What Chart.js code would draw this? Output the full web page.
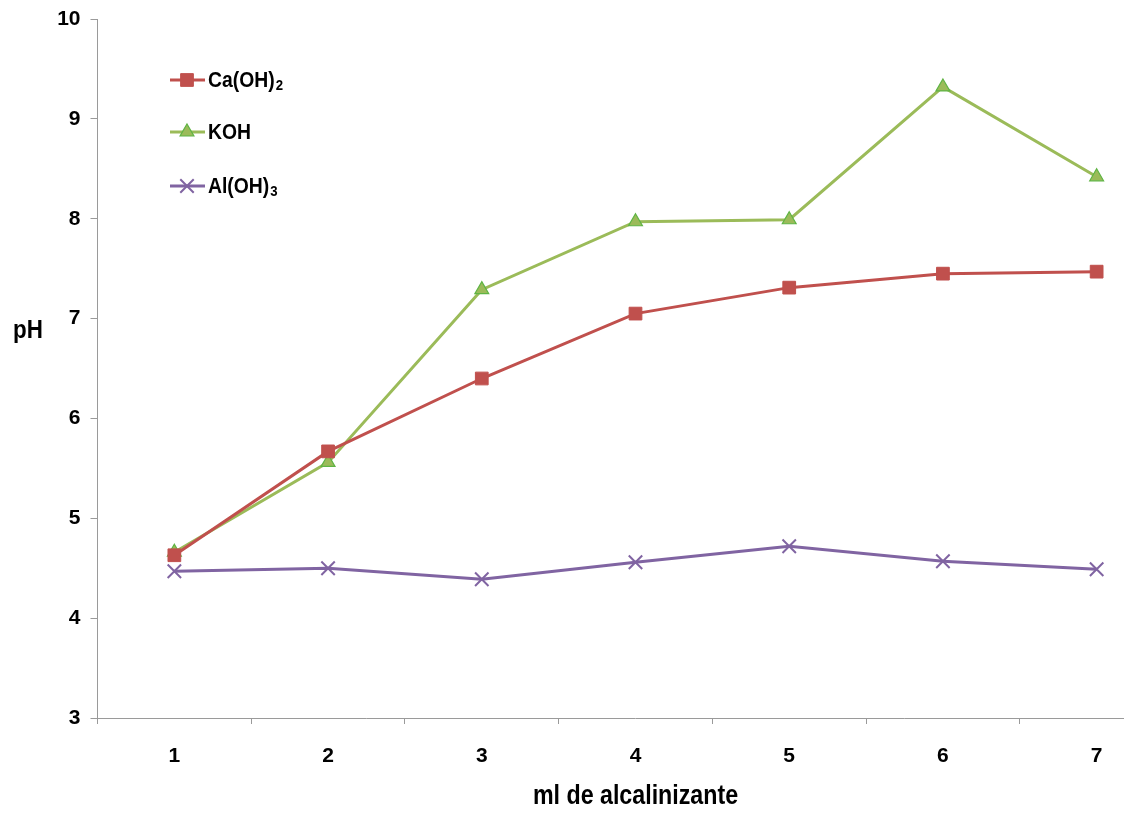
<!DOCTYPE html>
<html>
<head>
<meta charset="utf-8">
<script src="https://cdn.jsdelivr.net/npm/chart.js@4.4.1/dist/chart.umd.min.js"></script>
<style>
  html, body { margin: 0; padding: 0; background: #fff; overflow: hidden; }
  #myChart { display: block; }
</style>
</head>
<body>
<canvas id="myChart" width="1185" height="814"></canvas>
<script>
// ml of alkalinizer added
const categories = ['1', '2', '3', '4', '5', '6', '7'];
// pH readings per alkalinizer
const caOH2 = [4.63, 5.67, 6.40, 7.05, 7.31, 7.45, 7.47];
const koh = [4.66, 5.56, 7.29, 7.97, 7.99, 9.32, 8.42];
const alOH3 = [4.47, 4.50, 4.39, 4.56, 4.72, 4.57, 4.49];
// legend names: base text + subscript
const seriesNames = [['Ca(OH)', '2'], ['KOH', ''], ['Al(OH)', '3']];
const yTicks = [3, 4, 5, 6, 7, 8, 9, 10];
const xTitle = 'ml de alcalinizante';
const yTitle = 'pH';

const FONT = '"Liberation Sans", Arial, sans-serif';
const AXIS = '#9a9a9a';

// text squeezed horizontally (narrow bold look)
function narrowText(ctx, text, x, y, font, squeeze, align) {
  ctx.save();
  ctx.font = font;
  ctx.fillStyle = '#000';
  ctx.textBaseline = 'middle';
  ctx.textAlign = align || 'left';
  ctx.translate(x, y);
  ctx.scale(squeeze, 1);
  ctx.fillText(text, 0, 0);
  const w = ctx.measureText(text).width * squeeze;
  ctx.restore();
  return w;
}

function drawMarker(ctx, ds, x, y) {
  ctx.save();
  ctx.fillStyle = ds.pointBackgroundColor;
  ctx.strokeStyle = ds.pointBorderColor;
  ctx.lineWidth = ds.pointBorderWidth;
  Chart.helpers.drawPoint(ctx, {
    pointStyle: ds.pointStyle,
    radius: ds.pointRadius,
    borderWidth: ds.pointBorderWidth,
    rotation: 0
  }, x, y);
  ctx.restore();
}

// legend inside the plot + both axis titles
const extras = {
  id: 'extras',
  afterDraw(chart) {
    const ctx = chart.ctx;
    const rows = [80, 132, 186];
    chart.data.datasets.forEach((ds, i) => {
      const y = rows[i];
      ctx.save();
      ctx.strokeStyle = ds.borderColor;
      ctx.lineWidth = ds.borderWidth;
      ctx.beginPath();
      ctx.moveTo(170, y);
      ctx.lineTo(205, y);
      ctx.stroke();
      ctx.restore();
      drawMarker(ctx, ds, 187, y);

      const [base, sub] = seriesNames[i];
      const w = narrowText(ctx, base, 208, y + 1, 'bold 22px ' + FONT, 0.88);
      if (sub) {
        narrowText(ctx, sub, 208 + w + 1, y + 6, 'bold 15px ' + FONT, 0.88);
      }
    });

    const area = chart.chartArea;
    narrowText(ctx, xTitle, (area.left + area.right) / 2, 797, 'bold 27px ' + FONT, 0.86, 'center');
    narrowText(ctx, yTitle, 13, 331, 'bold 26px ' + FONT, 0.86, 'left');
  }
};

const ctx = document.getElementById('myChart');
const myChart = new Chart(ctx, {
  type: 'line',
  data: {
    labels: categories,
    datasets: [
      {
        label: 'Ca(OH)2',
        data: caOH2,
        borderColor: '#C0504D',
        borderWidth: 3,
        pointStyle: 'rect',
        pointRadius: 9,
        pointBackgroundColor: '#C0504D',
        pointBorderColor: '#C0504D',
        pointBorderWidth: 1,
      },
      {
        label: 'KOH',
        data: koh,
        borderColor: '#9BBB59',
        borderWidth: 3,
        pointStyle: 'triangle',
        pointRadius: 8,
        pointBackgroundColor: '#9BBB59',
        pointBorderColor: '#5FB444',
        pointBorderWidth: 1.2,
      },
      {
        label: 'Al(OH)3',
        data: alOH3,
        borderColor: '#8064A2',
        borderWidth: 3,
        pointStyle: 'crossRot',
        pointRadius: 9.5,
        pointBackgroundColor: '#8064A2',
        pointBorderColor: '#8064A2',
        pointBorderWidth: 2,
      }
    ]
  },
  options: {
    responsive: false,
    animation: false,
    layout: { padding: { top: 0, right: 0, bottom: 0, left: 0 } },
    plugins: {
      legend: { display: false },
      tooltip: { enabled: false }
    },
    elements: { line: { tension: 0 } },
    scales: {
      x: {
        offset: true,
        grid: {
          offset: true,
          drawOnChartArea: false,
          drawTicks: true,
          tickLength: 6,
          color: AXIS
        },
        border: { display: true, color: AXIS, width: 1 },
        ticks: {
          color: '#000',
          padding: 20,
          font: { family: FONT, size: 21, weight: 'bold' }
        },
        afterFit(scale) { scale.height = 96; }
      },
      y: {
        min: 3,
        max: 10,
        afterBuildTicks(scale) { scale.ticks = yTicks.map(v => ({ value: v })); },
        grid: {
          drawOnChartArea: false,
          drawTicks: true,
          tickLength: 7,
          color: AXIS
        },
        border: { display: true, color: AXIS, width: 1 },
        ticks: {
          color: '#000',
          padding: 10,
          font: { family: FONT, size: 21, weight: 'bold', lineHeight: 0.86 }
        },
        afterFit(scale) { scale.width = 97.5; }
      }
    }
  },
  plugins: [extras]
});
</script>
</body>
</html>
